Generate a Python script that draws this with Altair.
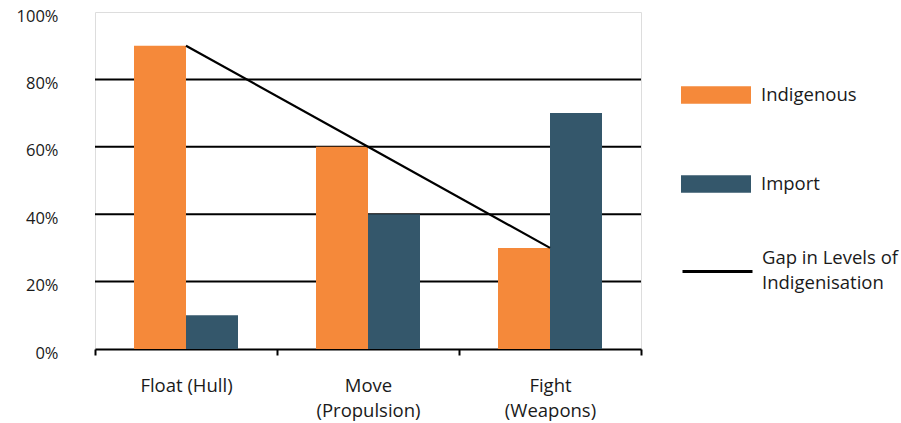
import altair as alt
import pandas as pd

# Share of each capability built at home vs. imported
categories = ["Float (Hull)", "Move\n(Propulsion)", "Fight\n(Weapons)"]
indigenous = [90, 60, 30]
imported = [10, 40, 70]
series = ["Indigenous", "Import"]
series_colors = ["#F5893A", "#34576B"]
gap_label = "Gap in Levels of Indigenisation"
gap_title_lines = ["Gap in Levels of", "Indigenisation"]
grid_values = [20, 40, 60, 80]

FONT = "Open Sans"
TEXT = "#1a1a1a"
TXT_SIZE = 18.5
TICK_SIZE = 16.5

bars = pd.DataFrame(
    [{"cat": c, "series": "Indigenous", "value": v} for c, v in zip(categories, indigenous)]
    + [{"cat": c, "series": "Import", "value": v} for c, v in zip(categories, imported)]
)
gap = pd.DataFrame({"cat": categories, "value": indigenous, "kind": [gap_label] * 3})
grid = pd.DataFrame({"g": grid_values})

# full-width category bands so ticks fall on the group boundaries
x_scale = alt.Scale(domain=categories, paddingInner=0, paddingOuter=0)
# two bars side by side in the middle of each band
offset_scale = alt.Scale(domain=series, paddingInner=0, paddingOuter=0.75)
y_scale = alt.Scale(domain=[0, 100], nice=False)

x_axis = alt.Axis(
    title=None,
    labelExpr="isValid(datum.value) ? split(datum.value, '\\n') : ''",
    labelAngle=0,
    labelFont=FONT,
    labelFontSize=TXT_SIZE,
    labelColor=TEXT,
    labelPadding=21,
    labelLineHeight=25,
    tickBand="extent",
    tickColor="black",
    tickWidth=2,
    tickSize=6,
    domainColor="black",
    domainWidth=2,
    grid=False,
)
y_axis = alt.Axis(
    title=None,
    values=[0, 20, 40, 60, 80, 100],
    labelExpr="datum.value + '%'",
    labelFont=FONT,
    labelFontSize=TICK_SIZE,
    labelColor=TEXT,
    labelPadding=37,
    labelOffset=4,
    ticks=False,
    domain=False,
    grid=False,
)

gridlines = alt.Chart(grid).mark_rule(color="black", strokeWidth=2).encode(
    y=alt.Y("g:Q", scale=y_scale, axis=y_axis)
)

bar_layer = alt.Chart(bars).mark_bar().encode(
    x=alt.X("cat:N", scale=x_scale, axis=x_axis, sort=categories),
    xOffset=alt.XOffset("series:N", sort=series, scale=offset_scale),
    y=alt.Y("value:Q", scale=y_scale),
    fill=alt.Fill(
        "series:N",
        sort=series,
        scale=alt.Scale(domain=series, range=series_colors),
        legend=alt.Legend(
            title=None,
            orient="none",
            legendX=586,
            legendY=48,
            symbolType="M-1,-0.25H1V0.25H-1Z",
            symbolSize=4900,
            symbolStrokeWidth=0,
            symbolOpacity=1,
            rowPadding=44,
            labelOffset=10,
            labelFont=FONT,
            labelFontSize=TXT_SIZE,
            labelColor=TEXT,
        ),
    ),
)

gap_line = alt.Chart(gap).mark_line(color="black", strokeWidth=2.2).encode(
    x=alt.X("cat:N", scale=x_scale, sort=categories),
    y=alt.Y("value:Q", scale=y_scale),
    stroke=alt.Stroke(
        "kind:N",
        scale=alt.Scale(domain=[gap_label], range=["black"]),
        legend=alt.Legend(
            title=gap_title_lines,
            titleOrient="right",
            titleAnchor="middle",
            titleBaseline="top",
            titlePadding=3,
            titleFont=FONT,
            titleFontSize=TXT_SIZE,
            titleFontWeight="normal",
            titleColor=TEXT,
            titleLineHeight=25,
            titleLimit=300,
            orient="none",
            legendX=586,
            legendY=229,
            symbolType="M-1,-0.17L1,-0.17",
            symbolSize=4900,
            symbolStrokeWidth=3,
            labelExpr="''",
            labelOffset=0,
        ),
    ),
)

chart = (
    alt.layer(gridlines, bar_layer, gap_line)
    .resolve_scale(fill="independent", stroke="independent", xOffset="independent")
    .properties(
        width=546,
        height=337,
        autosize=alt.AutoSizeParams(type="none"),
        padding={"left": 95, "top": 12, "right": 260, "bottom": 74},
    )
    .configure_view(stroke="black", strokeWidth=1)
    .configure(background="white")
)

chart.save("out.html", embed_options={"renderer": "svg", "actions": False})
